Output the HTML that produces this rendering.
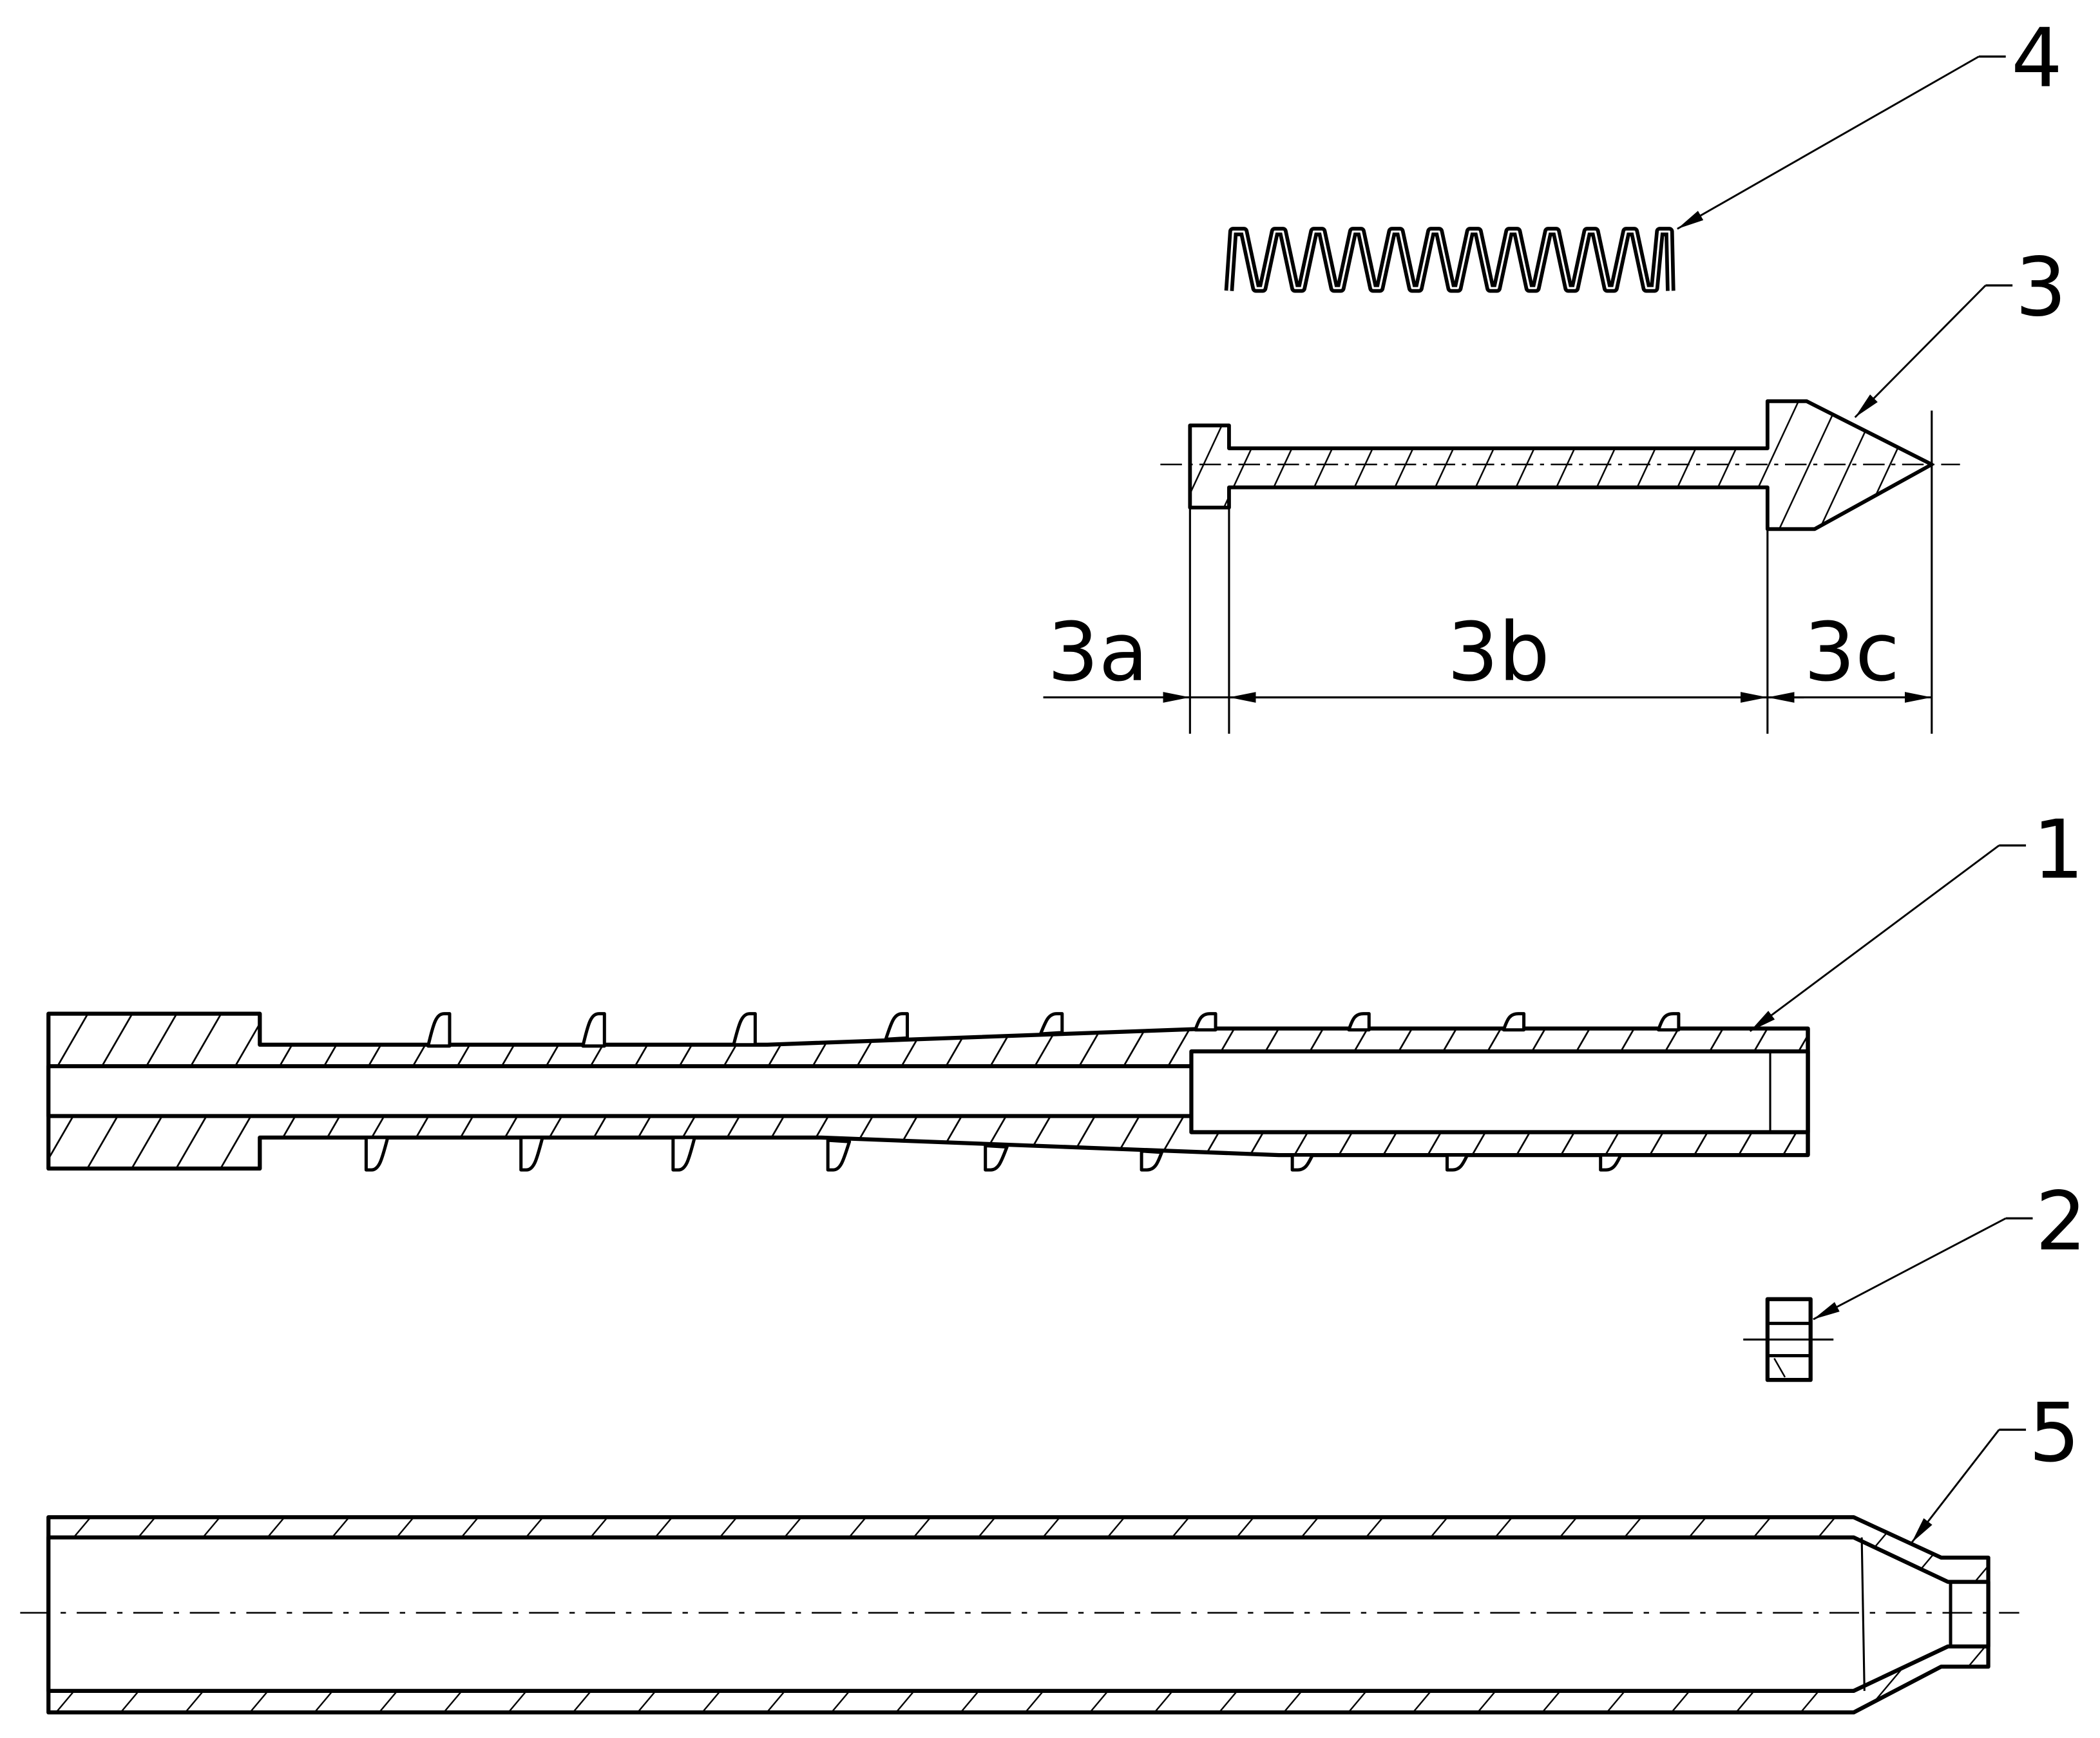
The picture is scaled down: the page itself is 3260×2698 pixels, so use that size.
<!DOCTYPE html>
<html><head><meta charset="utf-8"><style>
html,body{margin:0;padding:0;background:#fff;}
svg{display:block;}
text{font-family:"DejaVu Sans","Liberation Sans",sans-serif;fill:#000;}
</style></head><body>
<svg width="3260" height="2698" viewBox="0 0 1560 1291" preserveAspectRatio="none" xmlns="http://www.w3.org/2000/svg">
<defs>
<pattern id="h1" patternUnits="userSpaceOnUse" width="33" height="57" patternTransform="skewX(-30)">
<line x1="5" y1="0" x2="5" y2="57" stroke="#000" stroke-width="1.5"/>
</pattern>
<pattern id="h2" patternUnits="userSpaceOnUse" width="48" height="40" patternTransform="skewX(-40)">
<line x1="5" y1="0" x2="5" y2="40" stroke="#000" stroke-width="1.5"/>
</pattern>
<pattern id="h3" patternUnits="userSpaceOnUse" width="30" height="40" patternTransform="skewX(-25)">
<line x1="5" y1="0" x2="5" y2="40" stroke="#000" stroke-width="1.3"/>
</pattern>
<marker id="ar" viewBox="0 0 20 10" refX="20" refY="5" markerWidth="20" markerHeight="10" markerUnits="userSpaceOnUse" orient="auto">
<path d="M0,1 L20,5 L0,9 Z" fill="#000"/>
</marker>
</defs>
<g fill="none" stroke="#000" stroke-linejoin="round">

<!-- Part 4 spring -->
<path d="M913,216 L916,172 L924,172 L933,214 L938,214 L947,172 L953,172 L962,214 L967,214 L976,172 L982,172 L991,214 L996,214 L1005,172 L1011,172 L1020,214 L1025,214 L1034,172 L1040,172 L1049,214 L1054,214 L1063,172 L1069,172 L1078,214 L1083,214 L1092,172 L1098,172 L1107,214 L1112,214 L1121,172 L1127,172 L1136,214 L1141,214 L1150,172 L1156,172 L1165,214 L1170,214 L1179,172 L1185,172 L1194,214 L1199,214 L1208,172 L1214,172 L1223,214 L1229,214 L1233,172 L1240,172 L1241,216" stroke-width="7"/>
<path d="M913,216 L916,172 L924,172 L933,214 L938,214 L947,172 L953,172 L962,214 L967,214 L976,172 L982,172 L991,214 L996,214 L1005,172 L1011,172 L1020,214 L1025,214 L1034,172 L1040,172 L1049,214 L1054,214 L1063,172 L1069,172 L1078,214 L1083,214 L1092,172 L1098,172 L1107,214 L1112,214 L1121,172 L1127,172 L1136,214 L1141,214 L1150,172 L1156,172 L1165,214 L1170,214 L1179,172 L1185,172 L1194,214 L1199,214 L1208,172 L1214,172 L1223,214 L1229,214 L1233,172 L1240,172 L1241,216" stroke="#fff" stroke-width="1.5"/>
<polyline points="1470,42 1490,42" stroke-width="1.6"/>
<line x1="1470" y1="42" x2="1246" y2="170" stroke-width="1.4" marker-end="url(#ar)"/>

<!-- Part 3 pin -->
<path d="M884,316 L913,316 L913,333 L1313,333 L1313,298 L1342,298 L1435,345 L1348,393 L1313,393 L1313,362 L913,362 L913,377 L884,377 Z" fill="url(#h3)" stroke-width="2.8"/>
<line x1="862" y1="345" x2="1456" y2="345" stroke-width="1.2" stroke-dasharray="16,5,3,5"/>
<line x1="1435" y1="305" x2="1435" y2="545" stroke-width="1.5"/>
<line x1="884" y1="377" x2="884" y2="545" stroke-width="1.5"/>
<line x1="913" y1="377" x2="913" y2="545" stroke-width="1.5"/>
<line x1="1313" y1="393" x2="1313" y2="545" stroke-width="1.5"/>
<line x1="775" y1="518" x2="884" y2="518" stroke-width="1.5" marker-end="url(#ar)"/>
<line x1="1313" y1="518" x2="913" y2="518" stroke-width="1.5" marker-end="url(#ar)"/>
<line x1="913" y1="518" x2="1313" y2="518" stroke-width="1.5" marker-end="url(#ar)"/>
<line x1="1340" y1="518" x2="1313" y2="518" stroke-width="1.5" marker-end="url(#ar)"/>
<line x1="1313" y1="518" x2="1435" y2="518" stroke-width="1.5" marker-end="url(#ar)"/>
<line x1="884" y1="518" x2="913" y2="518" stroke-width="1.5"/>
<polyline points="1475,212 1495,212" stroke-width="1.6"/>
<line x1="1475" y1="212" x2="1378" y2="310" stroke-width="1.4" marker-end="url(#ar)"/>

<!-- Part 1 -->
<path d="M36,753 L193,753 L193,776 L570,776 L900,764 L1343,764 L1343,858 L950,858 L610,845 L193,845 L193,868 L36,868 Z" fill="url(#h1)" stroke-width="3"/>
<rect x="36" y="792" width="850" height="37" fill="#fff" stroke-width="3"/>
<rect x="885" y="781" width="458" height="60" fill="#fff" stroke-width="3"/>
<line x1="1315" y1="781" x2="1315" y2="841" stroke-width="1.5"/>
<line x1="1343" y1="764" x2="1343" y2="858" stroke-width="3"/>
<g fill="#fff" stroke-width="2.4">
<path d="M318,777 C322,760 324,753 330,753 L334,753 L334,777 Z"/>
<path d="M433,777 C437,760 439,753 445,753 L449,753 L449,777 Z"/>
<path d="M545,776 C549,760 551,753 557,753 L561,753 L561,776 Z"/>
<path d="M658,772 C662,760 664,753 670,753 L674,753 L674,771 Z"/>
<path d="M773,768 C777,758 779,753 785,753 L789,753 L789,767 Z"/>
<path d="M888,765 C891,756 893,753 899,753 L903,753 L903,765 Z"/>
<path d="M1002,765 C1005,756 1007,753 1013,753 L1017,753 L1017,765 Z"/>
<path d="M1117,765 C1120,756 1122,753 1128,753 L1132,753 L1132,765 Z"/>
<path d="M1232,765 C1235,756 1237,753 1243,753 L1247,753 L1247,765 Z"/>
</g>
<g fill="#fff" stroke-width="2.4">
<path d="M272,845 L272,869 L276,869 C282,869 284,860 288,845 Z"/>
<path d="M387,845 L387,869 L391,869 C397,869 399,860 403,845 Z"/>
<path d="M500,845 L500,869 L504,869 C510,869 512,860 516,845 Z"/>
<path d="M615,847 L615,869 L619,869 C625,869 627,860 631,848 Z"/>
<path d="M732,851 L732,869 L736,869 C742,869 744,862 748,852 Z"/>
<path d="M848,855 L848,869 L852,869 C858,869 860,864 863,856 Z"/>
<path d="M960,858 L960,869 L964,869 C970,869 972,864 975,858 Z"/>
<path d="M1075,858 L1075,869 L1079,869 C1085,869 1087,864 1090,858 Z"/>
<path d="M1189,858 L1189,869 L1193,869 C1199,869 1201,864 1204,858 Z"/>
</g>
<polyline points="1485,628 1505,628" stroke-width="1.6"/>
<line x1="1485" y1="628" x2="1300" y2="766" stroke-width="1.4" marker-end="url(#ar)"/>

<!-- Part 2 -->
<rect x="1313" y="965" width="32" height="60" fill="#fff" stroke-width="3"/>
<line x1="1313" y1="983" x2="1345" y2="983" stroke-width="2.4"/>
<line x1="1313" y1="1007" x2="1345" y2="1007" stroke-width="2.4"/>
<line x1="1318" y1="1009" x2="1326" y2="1023" stroke-width="1.2"/>
<line x1="1295" y1="995" x2="1362" y2="995" stroke-width="1.5"/>
<polyline points="1490,905 1510,905" stroke-width="1.6"/>
<line x1="1490" y1="905" x2="1347" y2="980" stroke-width="1.4" marker-end="url(#ar)"/>

<!-- Part 5 -->
<path d="M36,1127 L1377,1127 L1442,1157 L1477,1157 L1477,1238 L1442,1238 L1377,1272 L36,1272 Z" fill="url(#h2)" stroke-width="3"/>
<path d="M36,1142 L1377,1142 L1447,1175 L1477,1175 L1477,1223 L1447,1223 L1377,1256 L36,1256 Z" fill="#fff" stroke-width="3"/>
<line x1="1383" y1="1142" x2="1385" y2="1256" stroke-width="1.5"/>
<line x1="1449" y1="1175" x2="1449" y2="1223" stroke-width="2.4"/>
<line x1="15" y1="1198" x2="1500" y2="1198" stroke-width="1.2" stroke-dasharray="22,8,4,8"/>
<polyline points="1485,1062 1505,1062" stroke-width="1.6"/>
<line x1="1485" y1="1062" x2="1420" y2="1146" stroke-width="1.4" marker-end="url(#ar)"/>
</g>

<g font-size="60">
<text x="1494" y="64">4</text>
<text x="1497" y="234">3</text>
<text x="778" y="505">3a</text>
<text x="1075" y="505">3b</text>
<text x="1340" y="505">3c</text>
<text x="1510" y="652">1</text>
<text x="1512" y="928">2</text>
<text x="1507" y="1085">5</text>
</g>
</svg>
</body></html>
